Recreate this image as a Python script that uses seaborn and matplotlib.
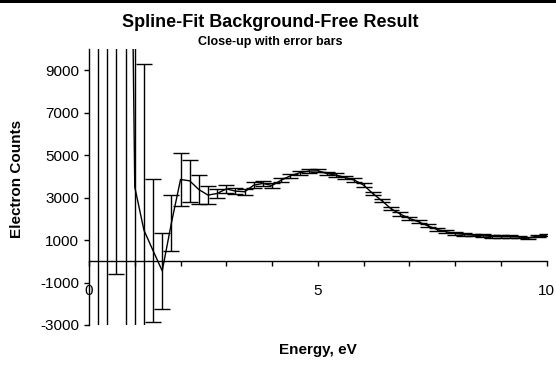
import numpy as np
import pandas as pd
import matplotlib
matplotlib.use("Agg")
import matplotlib.pyplot as plt
import seaborn as sns
from matplotlib.patches import Rectangle

# ---- data ----
energy = [0.2, 0.4, 0.6, 0.8, 1.0, 1.2, 1.4, 1.6, 1.8, 2.0,
          2.2, 2.4, 2.6, 2.8, 3.0, 3.2, 3.4, 3.6, 3.8, 4.0,
          4.2, 4.4, 4.6, 4.8, 5.0, 5.2, 5.4, 5.6, 5.8, 6.0,
          6.2, 6.4, 6.6, 6.8, 7.0, 7.2, 7.4, 7.6, 7.8, 8.0,
          8.2, 8.4, 8.6, 8.8, 9.0, 9.2, 9.4, 9.6, 9.8, 10.0]
counts = [30000, 25000, 15000, 40000, 3500, 1470, 500, -450, 1800, 3855,
          3790, 3380, 3118, 3196, 3410, 3306, 3275, 3588, 3667, 3572,
          3823, 4027, 4169, 4247, 4263, 4137, 4059, 3949, 3823, 3588,
          3196, 2850, 2474, 2224, 2020, 1863, 1675, 1502, 1392, 1314,
          1267, 1235, 1204, 1170, 1160, 1160, 1150, 1094, 1188, 1235]
errors = [40000, 35000, 15615, 50000, 9000, 7800, 3360, 1800, 1300, 1230,
          1000, 680, 420, 220, 200, 150, 150, 130, 120, 110,
          100, 100, 90, 90, 80, 80, 80, 80, 80, 80,
          80, 80, 80, 80, 70, 70, 70, 70, 70, 60,
          60, 60, 60, 60, 60, 60, 60, 60, 60, 60]

title = "Spline-Fit Background-Free Result"
subtitle = "Close-up with error bars"
xlabel = "Energy, eV"
ylabel = "Electron Counts"
yticks = [-3000, -1000, 1000, 3000, 5000, 7000, 9000]
xmajor = [0, 5, 10]
xminor = [0, 1, 2, 3, 4, 5, 6, 7, 8, 9, 10]

df = pd.DataFrame({"energy": energy, "counts": counts, "err": errors})

sns.set_style("white")
plt.rcParams["font.family"] = ["Liberation Sans", "DejaVu Sans"]
plt.rcParams["text.color"] = "black"
plt.rcParams["axes.labelcolor"] = "black"
plt.rcParams["xtick.color"] = "black"
plt.rcParams["ytick.color"] = "black"

W, H = 556, 366
fig = plt.figure(figsize=(W / 100, H / 100), dpi=100)
ax = fig.add_axes([89 / W, 1 - 325 / H, (546.7 - 89) / W, (325 - 49) / H])

ax.errorbar(df["energy"], df["counts"], yerr=df["err"], fmt="none",
            ecolor="black", elinewidth=1.0, capsize=6, capthick=1.0)
sns.lineplot(data=df, x="energy", y="counts", ax=ax, color="black",
             linewidth=1.0, sort=False, estimator=None)

ax.set_xlim(0, 10)
ax.set_ylim(-3000, 10000)

for s in ["top", "right"]:
    ax.spines[s].set_visible(False)
ax.spines["bottom"].set_position(("data", 0))
ax.spines["bottom"].set_color("black")
ax.spines["bottom"].set_linewidth(1.0)
ax.spines["left"].set_color("black")
ax.spines["left"].set_linewidth(1.0)

ax.set_yticks(yticks)
ax.set_yticklabels([str(v) for v in yticks])
ax.set_xticks(xmajor)
ax.set_xticklabels([str(v) for v in xmajor])
ax.set_xticks(xminor, minor=True)
ax.tick_params(axis="y", direction="out", length=3.5, width=1, pad=3.5,
               labelsize=11, colors="black", left=True)
ax.tick_params(axis="x", which="both", direction="out", length=3.5, width=1,
               pad=12.5, labelsize=11, colors="black", bottom=True)
ax.tick_params(axis="x", which="minor", labelbottom=False)

ax.set_xlabel(xlabel, fontsize=11, fontweight="bold", color="black")
ax.set_ylabel(ylabel, fontsize=11, fontweight="bold", color="black")
ax.xaxis.set_label_coords(0.5, -0.065)
ax.yaxis.set_label_coords(-0.142, 0.53)

fig.text(0.5 * (127 + 413) / W, 1 - 27 / H, title, ha="center", va="baseline",
         fontsize=13, fontweight="bold", color="black")
fig.text(0.5 * (189 + 351) / W, 1 - 45 / H, subtitle, ha="center", va="baseline",
         fontsize=9, fontweight="bold", color="black")

fig.add_artist(Rectangle((0, 1 - 3 / H), 1, 3 / H, transform=fig.transFigure,
                         facecolor="black", edgecolor="none"))

fig.savefig("out.png", dpi=100)
